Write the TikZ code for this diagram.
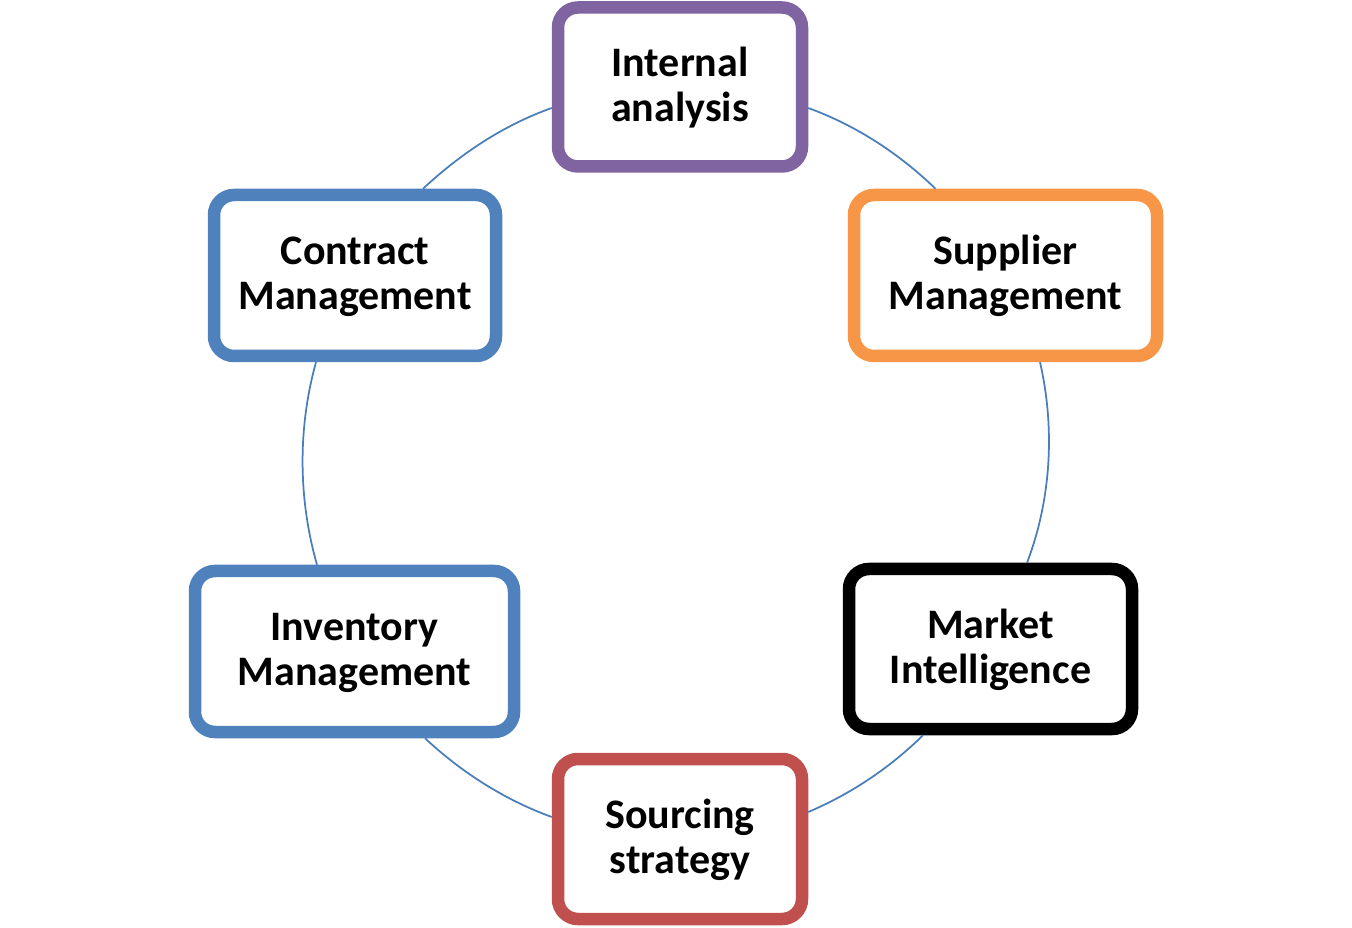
\documentclass[tikz,border=0pt]{standalone}
\usepackage{fontspec}
\setmainfont{Carlito}
\definecolor{cpurple}{HTML}{8064A2}
\definecolor{corange}{HTML}{F79646}
\definecolor{cred}{HTML}{C0504D}
\definecolor{cblue}{HTML}{4F81BD}
\definecolor{cline}{HTML}{4A7EBB}
\newcommand{\tl}[2]{\rule{0pt}{34pt}#1\\#2\rule[-10pt]{0pt}{10pt}}
\begin{document}
\begin{tikzpicture}[x=1pt,y=1pt,
  box/.style={draw, line width=12.5pt, rounded corners=20pt, fill=white,
    align=center, inner sep=0pt,
    font=\fontsize{42}{45}\selectfont\bfseries},
  link/.style={draw=cline, line width=1.75pt, looseness=0.86}]
\useasboundingbox (0,0) rectangle (1352,927);
\node[box, draw=cpurple, minimum width=244pt, minimum height=159pt] (internal) at (680,840) {\tl{Internal}{analysis}};
\node[box, draw=corange, minimum width=303pt, minimum height=161pt] (supplier) at (1005.5,651.5) {\tl{Supplier}{Management}};
\node[box, draw=black, minimum width=283pt, minimum height=160pt] (market) at (990.5,278) {\tl{Market}{Intelligence}};
\node[box, draw=cred, minimum width=244pt, minimum height=160pt] (sourcing) at (680,88) {\tl{Sourcing}{strategy}};
\node[box, draw=cblue, minimum width=319pt, minimum height=161pt] (inventory) at (354.5,275.5) {\tl{Inventory}{Management}};
\node[box, draw=cblue, minimum width=282pt, minimum height=161pt] (contract) at (355,651.5) {\tl{Contract}{Management}};
\draw[link] ([yshift=-21pt]internal.east) to[out=-20, in=136] ([xshift=-70pt]supplier.north);
\draw[link] ([xshift=34.5pt]supplier.south) to[out=-77, in=69] ([xshift=36.5pt]market.north);
\draw[link] ([xshift=-67.5pt]market.south) to[out=-135.5, in=23] ([yshift=27pt]sourcing.east);
\draw[link] ([yshift=22pt]sourcing.west) to[out=160, in=-43] ([xshift=70.5pt]inventory.south);
\draw[link] ([xshift=-37.5pt]inventory.north) to[out=106, in=-105.6] ([xshift=-39pt]contract.south);
\draw[link] ([xshift=68pt]contract.north) to[out=43, in=-160.5] ([yshift=-21pt]internal.west);
\end{tikzpicture}
\end{document}
